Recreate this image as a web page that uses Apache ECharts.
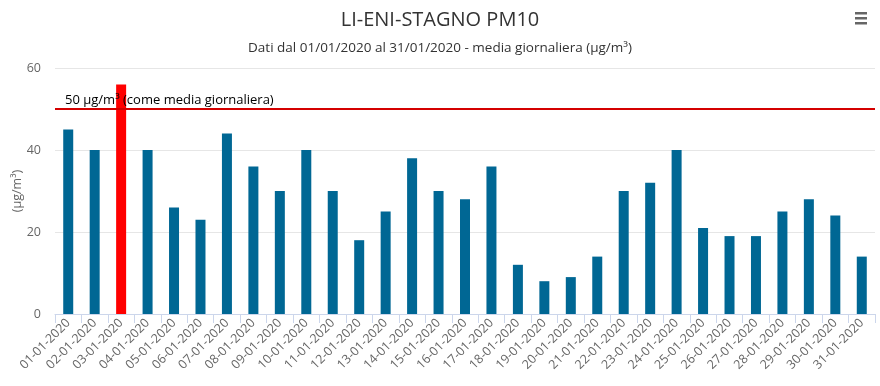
<!DOCTYPE html>
<html>
<head>
<meta charset="utf-8">
<script src="https://cdn.jsdelivr.net/npm/echarts@6/dist/echarts.min.js"></script>
<style>html,body{margin:0;padding:0;background:#fff}#c{width:880px;height:386px}</style>
</head>
<body>
<div id="c"></div>
<script>
var categories = ["01-01-2020","02-01-2020","03-01-2020","04-01-2020","05-01-2020","06-01-2020","07-01-2020","08-01-2020","09-01-2020","10-01-2020","11-01-2020","12-01-2020","13-01-2020","14-01-2020","15-01-2020","16-01-2020","17-01-2020","18-01-2020","19-01-2020","20-01-2020","21-01-2020","22-01-2020","23-01-2020","24-01-2020","25-01-2020","26-01-2020","27-01-2020","28-01-2020","29-01-2020","30-01-2020","31-01-2020"];
var pm10 = [45,40,56,40,26,23,44,36,30,40,30,18,25,38,30,28,36,12,8,9,14,30,32,40,21,19,19,25,28,24,14];
var limitValue = 50;
var limitLabel = "50 µg/m³ (come media giornaliera)";
var yTicks = [0,20,40,60];

var chart = echarts.init(document.getElementById('c'), null, {renderer:'canvas'});
var font = "'Open Sans', 'DejaVu Sans', sans-serif";
chart.setOption({
  animation:false,
  title:{
    text:"LI-ENI-STAGNO PM10",
    subtext:"Dati dal 01/01/2020 al 31/01/2020 - media giornaliera (µg/m³)",
    left:'center', top:5, itemGap:11,
    textStyle:{fontFamily:font, fontSize:20, fontWeight:'normal', color:'#333'},
    subtextStyle:{fontFamily:font, fontSize:13.5, color:'#333'}
  },
  graphic:[
    {type:'rect', left:855, top:12, shape:{width:12,height:2.5}, style:{fill:'#666'}},
    {type:'rect', left:855, top:17, shape:{width:12,height:2.5}, style:{fill:'#666'}},
    {type:'rect', left:855, top:22, shape:{width:12,height:2.5}, style:{fill:'#666'}}
  ],
  grid:{left:55, right:5, top:68, bottom:72, containLabel:false, outerBoundsMode:'none'},
  xAxis:{
    type:'category', data:categories, boundaryGap:true,
    axisLine:{lineStyle:{color:'#ccd6eb'}},
    axisTick:{show:true, alignWithLabel:false, length:9, lineStyle:{color:'#ccd6eb'}},
    axisLabel:{rotate:45, interval:0, fontSize:12.5, color:'#666', fontFamily:font, margin:7}
  },
  yAxis:{
    type:'value', min:0, max:60, interval:20,
    name:"(µg/m³)", nameLocation:'middle', nameGap:31, nameRotate:90, nameMoveOverlap:false,
    nameTextStyle:{fontSize:12.5, color:'#666', fontFamily:font},
    axisLine:{show:false}, axisTick:{show:false},
    axisLabel:{fontSize:12.5, color:'#666', fontFamily:font, margin:14},
    splitLine:{lineStyle:{color:'#e6e6e6'}}
  },
  series:[
    {
      type:'line', data:[], z:1,
      markLine:{
        silent:true, symbol:'none',
        lineStyle:{color:'#d40000', width:2, type:'solid'},
        label:{show:true, position:'insideStartTop', formatter:limitLabel, color:'#000', fontSize:13, fontFamily:font, distance:[10,2]},
        data:[{yAxis:limitValue}]
      }
    },
    {
      type:'bar', data:pm10, barWidth:10, z:3,
      itemStyle:{color:function(p){return p.value>limitValue?'#ff0000':'#006794';}}
    }
  ]
});
</script>
</body>
</html>
